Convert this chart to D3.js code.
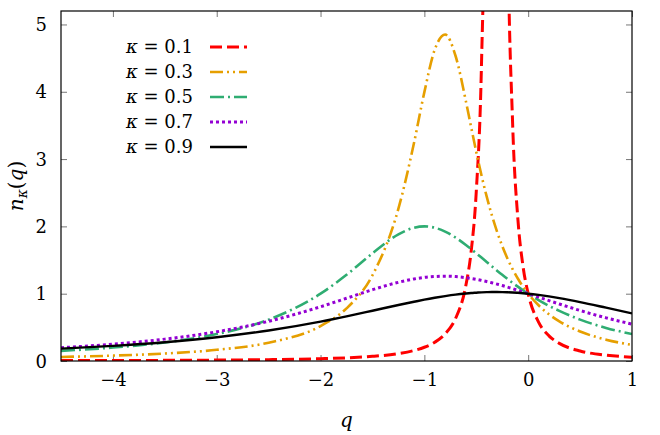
<!DOCTYPE html>
<html>
<head>
<meta charset="utf-8">
<script src="https://cdn.jsdelivr.net/npm/d3@7"></script>
<style>
  body { margin: 0; background: #fff; }
</style>
</head>
<body>
<svg id="chart"></svg>
<script>
// values
let qValues = [-4.5, -4, -3.5, -3, -2.5, -2, -1.75, -1.5, -1.25, -1.1, -1, -0.9, -0.8, -0.7, -0.6, -0.55,
  -0.5, -0.45, -0.4, -0.35, -0.3, -0.25, -0.2, -0.15, -0.1, -0.05, 0, 0.1, 0.2, 0.3, 0.5, 0.75, 1];

let n01 = [0.0056, 0.0072, 0.0096, 0.0135, 0.0204, 0.0342, 0.0471, 0.0689, 0.110, 0.156, 0.204, 0.278, 0.402, 0.630, 1.124, 1.619,
  2.518, 4.394, 9.17, 24.0, 39.5, 16.7, 6.85, 3.535, 2.124, 1.409, 1.0, 0.577, 0.374, 0.262, 0.149, 0.087, 0.057];
let n03 = [0.060, 0.080, 0.111, 0.166, 0.272, 0.519, 0.781, 1.274, 2.263, 3.238, 3.995, 4.627, 4.850, 4.535, 3.860, 3.478,
  3.106, 2.759, 2.445, 2.166, 1.922, 1.709, 1.524, 1.364, 1.226, 1.105, 1.0, 0.828, 0.694, 0.589, 0.438, 0.317, 0.239];
let n05 = [0.151, 0.200, 0.276, 0.400, 0.615, 1.000, 1.280, 1.600, 1.882, 1.980, 2.000, 1.980, 1.923, 1.835, 1.724, 1.663,
  1.600, 1.536, 1.471, 1.406, 1.342, 1.280, 1.220, 1.161, 1.105, 1.051, 1.0, 0.905, 0.820, 0.744, 0.615, 0.492, 0.400];
let n07 = [0.197, 0.250, 0.325, 0.434, 0.590, 0.806, 0.932, 1.059, 1.169, 1.219, 1.242, 1.255, 1.260, 1.254, 1.238, 1.227,
  1.214, 1.198, 1.181, 1.162, 1.142, 1.121, 1.098, 1.075, 1.050, 1.025, 1.0, 0.949, 0.897, 0.847, 0.750, 0.641, 0.548];
let n09 = [0.183, 0.224, 0.279, 0.353, 0.453, 0.585, 0.663, 0.747, 0.832, 0.880, 0.911, 0.939, 0.964, 0.986, 1.003, 1.010,
  1.015, 1.020, 1.023, 1.025, 1.025, 1.024, 1.022, 1.018, 1.013, 1.007, 1.0, 0.982, 0.960, 0.934, 0.875, 0.792, 0.707];

let kappaLabels = ["0.1", "0.3", "0.5", "0.7", "0.9"];
let xTicks = [-4, -3, -2, -1, 0, 1];
let yTicks = [0, 1, 2, 3, 4, 5];

let width = 660;
let height = 435;
let plotLeft = 61, plotRight = 632, plotTop = 11, plotBottom = 361;
let serif = 'DejaVu Serif';

let svg = d3.select('#chart').attr('width', width).attr('height', height)
  .style('font-family', serif);

let xScale = d3.scaleLinear().domain([-4.5, 1]).range([plotLeft, plotRight]);
let yScale = d3.scaleLinear().domain([0, 5.2]).range([plotBottom, plotTop]);

// series styles
let series = [
  { values: n01, color: '#ff0000', dash: '12,5', width: 3 },
  { values: n03, color: '#e69f00', dash: '13,4,2,4,2,4', width: 2.6 },
  { values: n05, color: '#2fad72', dash: '14,4,2,4', width: 2.6 },
  { values: n07, color: '#9400d3', dash: '3,3', width: 3 },
  { values: n09, color: '#000000', dash: null, width: 2.4 }
];

svg.append('defs').append('clipPath')
  .attr('id', 'plotClip')
  .append('rect')
  .attr('x', plotLeft).attr('y', plotTop)
  .attr('width', plotRight - plotLeft).attr('height', plotBottom - plotTop);

// ticks on all four sides, pointing inward
let xAxisBottom = d3.axisBottom(xScale).tickValues(xTicks).tickSize(-6)
  .tickFormat(d => d < 0 ? '\u2212' + Math.abs(d) : String(d));
let gx = svg.append('g')
  .attr('transform', 'translate(0,' + plotBottom + ')')
  .call(xAxisBottom);
gx.attr('font-family', null);
gx.select('.domain').remove();
gx.selectAll('line').attr('stroke', '#777');
gx.selectAll('text').style('font-size', '18px').attr('y', 12).attr('dy', '0.71em');

let gxTop = svg.append('g')
  .attr('transform', 'translate(0,' + plotTop + ')')
  .call(d3.axisTop(xScale).tickValues(xTicks).tickSize(-6).tickFormat(''));
gxTop.select('.domain').remove();
gxTop.selectAll('line').attr('stroke', '#777');

let gy = svg.append('g')
  .attr('transform', 'translate(' + plotLeft + ',0)')
  .call(d3.axisLeft(yScale).tickValues(yTicks).tickSize(-6).tickFormat(d3.format('d')));
gy.attr('font-family', null);
gy.select('.domain').remove();
gy.selectAll('line').attr('stroke', '#777');
gy.selectAll('text').style('font-size', '18px').attr('x', -14).attr('dy', '0.34em');

let gyRight = svg.append('g')
  .attr('transform', 'translate(' + plotRight + ',0)')
  .call(d3.axisRight(yScale).tickValues(yTicks).tickSize(-6).tickFormat(''));
gyRight.select('.domain').remove();
gyRight.selectAll('line').attr('stroke', '#777');

// curves
let plot = svg.append('g').attr('clip-path', 'url(#plotClip)');
series.forEach(function(s) {
  let line = d3.line()
    .x(function(d, i) { return xScale(qValues[i]); })
    .y(function(d) { return yScale(d); })
    .curve(d3.curveMonotoneX);
  plot.append('path')
    .datum(s.values)
    .attr('d', line)
    .attr('fill', 'none')
    .attr('stroke', s.color)
    .attr('stroke-width', s.width)
    .attr('stroke-dasharray', s.dash);
});

// border
svg.append('rect')
  .attr('x', plotLeft).attr('y', plotTop)
  .attr('width', plotRight - plotLeft).attr('height', plotBottom - plotTop)
  .attr('fill', 'none')
  .attr('stroke', '#000')
  .attr('stroke-width', 1.2);

// legend
let legend = svg.append('g');
kappaLabels.forEach(function(k, i) {
  let y = 47 + i * 25;
  let t = legend.append('text')
    .attr('x', 193).attr('y', y)
    .attr('dy', '0.34em')
    .attr('text-anchor', 'end')
    .style('font-size', '18px');
  t.append('tspan').attr('font-style', 'italic').text('\u03ba');
  t.append('tspan').text(' = ' + k);
  legend.append('line')
    .attr('x1', 210).attr('x2', 247)
    .attr('y1', y).attr('y2', y)
    .attr('stroke', series[i].color)
    .attr('stroke-width', series[i].width)
    .attr('stroke-dasharray', series[i].dash);
});

// axis labels
svg.append('text')
  .attr('x', (plotLeft + plotRight) / 2).attr('y', 427)
  .attr('text-anchor', 'middle')
  .style('font-size', '20px')
  .attr('font-style', 'italic')
  .text('q');

let yl = svg.append('text')
  .attr('transform', 'translate(23,' + ((plotTop + plotBottom) / 2) + ') rotate(-90)')
  .attr('text-anchor', 'middle')
  .style('font-size', '20px');
yl.append('tspan').attr('font-style', 'italic').text('n');
yl.append('tspan').attr('font-style', 'italic').style('font-size', '14px').attr('dy', 4).text('\u03ba');
yl.append('tspan').attr('dy', -4).text('(');
yl.append('tspan').attr('font-style', 'italic').text('q');
yl.append('tspan').text(')');
</script>
</body>
</html>
